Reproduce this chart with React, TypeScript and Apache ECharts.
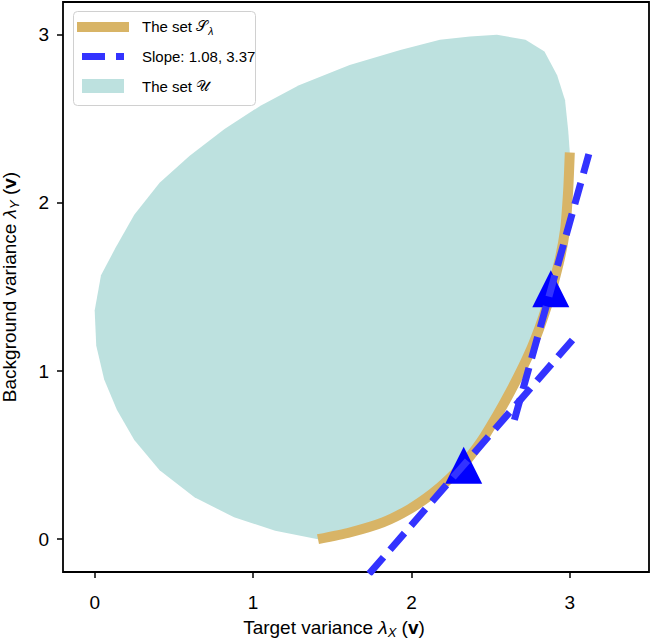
import React, { useEffect, useRef } from "react";
import * as echarts from "echarts";

// Axis ticks
const xTicks = [0, 1, 2, 3];
const yTicks = [0, 1, 2, 3];

// The set U: outer boundary (from upper right, over the top, down the left, to the bottom)
const uX = [3.0, 2.99, 2.97, 2.92, 2.84, 2.72, 2.54, 2.37, 2.18, 1.93, 1.61, 1.29, 1.05, 0.82, 0.6, 0.41, 0.25, 0.13, 0.04, 0.0, 0.01, 0.06, 0.14, 0.25, 0.41, 0.63, 0.88, 1.14, 1.41];
const uY = [2.3, 2.43, 2.61, 2.76, 2.9, 2.97, 3.0, 2.99, 2.97, 2.91, 2.82, 2.7, 2.58, 2.44, 2.28, 2.12, 1.93, 1.73, 1.57, 1.36, 1.15, 0.95, 0.77, 0.59, 0.41, 0.25, 0.13, 0.05, 0.0];

// The set S_lambda (lower-right boundary)
const sX = [1.41, 1.61, 1.82, 1.99, 2.13, 2.24, 2.35, 2.46, 2.62, 2.76, 2.86, 2.93, 2.97, 2.99, 3.0];
const sY = [0.0, 0.04, 0.1, 0.18, 0.27, 0.36, 0.47, 0.61, 0.87, 1.14, 1.4, 1.64, 1.84, 2.08, 2.3];

// Tangent lines (slopes 1.08 and 3.37): end points
const slopeAX = [1.6, 3.04];
const slopeAY = [-0.35, 1.21];
const slopeBX = [2.65, 3.12];
const slopeBY = [0.71, 2.29];

// Tangent points (triangles)
const triX = [2.33, 2.88];
const triY = [0.44, 1.49];

const legendLabels = ["The set ", "Slope: 1.08, 3.37", "The set "];

export default function App() {
  const ref = useRef<HTMLDivElement>(null);

  useEffect(() => {
    const chart = echarts.init(ref.current!, null, { renderer: "svg" });
    const font = "'Liberation Sans', Arial, Helvetica, sans-serif";
    const teal = "#bde1df";
    const orange = "#d8b466";
    const blue = "#3333ff";

    const mkRich = (fs: number, sub: number, pad: number) => ({
      n: { fontSize: fs, fontFamily: font, color: "#000" },
      l: { fontSize: fs, fontFamily: font, fontStyle: "italic", color: "#000" },
      s: { fontSize: sub, fontFamily: font, fontStyle: "italic", color: "#000", padding: [pad, 0, 0, 0] },
      b: { fontSize: fs, fontFamily: font, fontWeight: "bold", color: "#000" },
      m: { fontSize: fs, fontFamily: "'DejaVu Sans', serif", color: "#000" },
    });
    const axisRich = mkRich(19, 13, 11);
    const legendRich = mkRich(15, 10.5, 9);

    const uPoly = uX.map((x, i) => [x, uY[i]]).concat(sX.slice(1).map((x, i) => [x, sY[i + 1]]));

    const option: any = {
      animation: false,
      grid: {
        left: 63,
        right: 2,
        top: 2,
        bottom: 68,
        show: true,
        containLabel: false,
        outerBoundsMode: "none",
        borderColor: "#000",
        borderWidth: 1.8,
        backgroundColor: "transparent",
      },
      xAxis: {
        type: "value",
        min: -0.2,
        max: 3.5,
        axisLine: { show: false, onZero: false },
        splitLine: { show: false },
        axisTick: { show: true, inside: false, length: 6, lineStyle: { color: "#000", width: 1.5 }, customValues: xTicks },
        axisLabel: { customValues: xTicks, margin: 21, fontSize: 19, color: "#000", fontFamily: font, formatter: (v: number) => String(v) },
        name: "{n|Target variance }{l|λ}{s|X}{n| (}{b|v}{n|)}",
        nameLocation: "middle",
        nameGap: 43,
        nameTextStyle: { rich: axisRich, padding: [0, 44, 0, 0] },
      },
      yAxis: {
        type: "value",
        min: -0.195,
        max: 3.195,
        axisLine: { show: false, onZero: false },
        splitLine: { show: false },
        axisTick: { show: true, inside: false, length: 6, lineStyle: { color: "#000", width: 1.5 }, customValues: yTicks },
        axisLabel: { customValues: yTicks, margin: 14, fontSize: 19, color: "#000", fontFamily: font, formatter: (v: number) => String(v) },
        name: "{n|Background variance }{l|λ}{s|Y}{n| (}{b|v}{n|)}",
        nameLocation: "middle",
        nameGap: 42,
        nameTextStyle: { rich: axisRich },
      },
      series: [
        {
          type: "custom",
          name: "The set U",
          z: 1,
          data: [uPoly[0]],
          renderItem: (params: any, api: any) => {
            const pts = uPoly.map((p) => api.coord(p));
            return { type: "polygon", shape: { points: pts }, style: { fill: teal } };
          },
        },
        {
          type: "line",
          name: "The set S",
          z: 2,
          data: sX.map((x, i) => [x, sY[i]]),
          showSymbol: false,
          smooth: 0.2,
          lineStyle: { color: orange, width: 10 },
        },
        {
          type: "scatter",
          name: "Tangent points",
          z: 3,
          data: triX.map((x, i) => [x, triY[i]]),
          symbol: "triangle",
          symbolSize: 37,
          itemStyle: { color: "#0000ff", opacity: 1 },
        },
        {
          type: "line",
          name: "Slope 1.08",
          z: 4,
          data: slopeAX.map((x, i) => [x, slopeAY[i]]),
          showSymbol: false,
          lineStyle: { color: blue, width: 7, type: [22, 10] },
        },
        {
          type: "line",
          name: "Slope 3.37",
          z: 4,
          data: slopeBX.map((x, i) => [x, slopeBY[i]]),
          showSymbol: false,
          lineStyle: { color: blue, width: 7, type: [22, 10] },
        },
      ],
      graphic: [
        {
          type: "group",
          z: 100,
          children: [
            {
              type: "rect",
              shape: { x: 73.5, y: 11.5, width: 182, height: 94, r: 4 },
              style: { fill: "rgba(255,255,255,0.85)", stroke: "#d0d0d0", lineWidth: 1 },
            },
            { type: "line", shape: { x1: 77, y1: 27, x2: 129, y2: 27 }, style: { stroke: orange, lineWidth: 10 } },
            { type: "line", shape: { x1: 82, y1: 56.5, x2: 105, y2: 56.5 }, style: { stroke: blue, lineWidth: 7 } },
            { type: "line", shape: { x1: 116, y1: 56.5, x2: 124, y2: 56.5 }, style: { stroke: blue, lineWidth: 7 } },
            { type: "rect", shape: { x: 82, y: 79, width: 42, height: 14 }, style: { fill: teal } },
            {
              type: "text",
              x: 142,
              y: 26,
              style: { text: "{n|" + legendLabels[0] + "}{m|𝒮}{s|λ}", rich: legendRich, verticalAlign: "middle" },
            },
            {
              type: "text",
              x: 142,
              y: 56.5,
              style: { text: "{n|" + legendLabels[1] + "}", rich: legendRich, verticalAlign: "middle" },
            },
            {
              type: "text",
              x: 142,
              y: 86,
              style: { text: "{n|" + legendLabels[2] + "}{m|𝒰}", rich: legendRich, verticalAlign: "middle" },
            },
          ],
        },
      ],
    };

    chart.setOption(option);
    return () => chart.dispose();
  }, []);

  return (
    <div
      ref={ref}
      style={{ position: "fixed", left: 0, top: 0, width: 651, height: 640, background: "#fff" }}
    />
  );
}
